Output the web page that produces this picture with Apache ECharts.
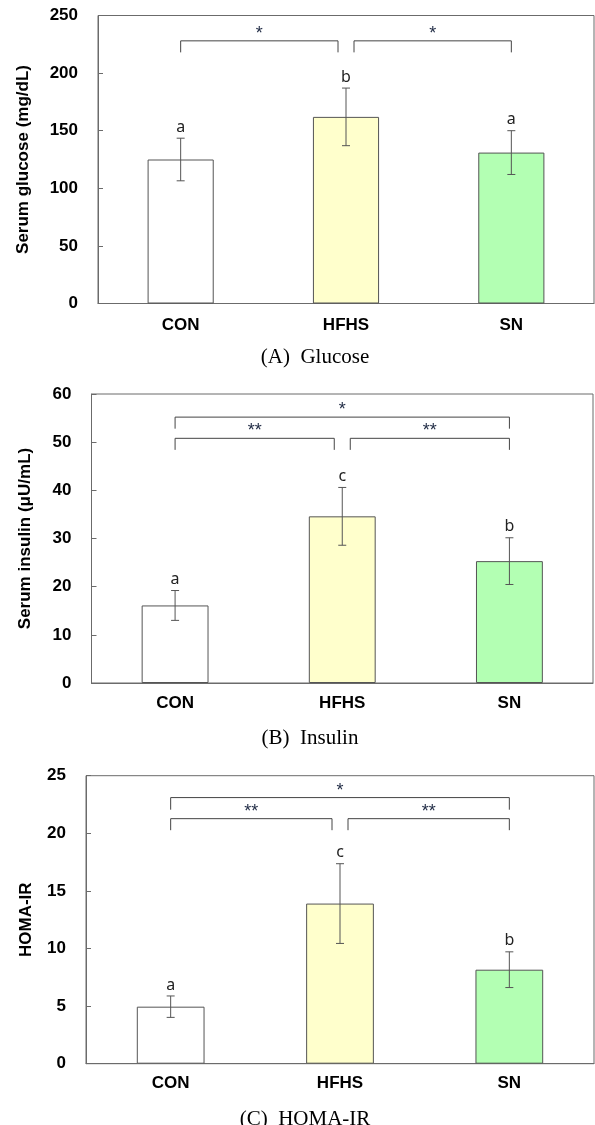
<!DOCTYPE html>
<html>
<head>
<meta charset="utf-8">
<script src="https://cdn.jsdelivr.net/npm/echarts@6/dist/echarts.min.js"></script>
<style>
  html, body { margin: 0; padding: 0; background: #fff; }
  #chart { width: 595px; height: 1125px; }
</style>
</head>
<body>
<div id="chart"></div>
<script>
const categories = ['CON', 'HFHS', 'SN']
const barColors = ['#ffffff', '#ffffcc', '#b3ffb3']

// (A) Glucose
const glucoseMean = [125, 162, 131]
const glucoseSd = [18.5, 25, 19]
const glucoseLetters = ['a', 'b', 'a']
// [from, to, y, leg drop, label]
const glucoseBrackets = [[0, 1, 228, 10, '*'], [1, 2, 228, 10, '*']]

// (B) Insulin
const insulinMean = [16.1, 34.6, 25.3]
const insulinSd = [3.1, 6.0, 4.85]
const insulinLetters = ['a', 'c', 'b']
const insulinBrackets = [[0, 2, 55.2, 2.4, '*'], [0, 1, 50.8, 2.4, '**'], [1, 2, 50.8, 2.4, '**']]

// (C) HOMA-IR
const homaMean = [4.95, 13.9, 8.16]
const homaSd = [0.93, 3.46, 1.55]
const homaLetters = ['a', 'c', 'b']
const homaBrackets = [[0, 2, 23.1, 1.05, '*'], [0, 1, 21.27, 1.0, '**'], [1, 2, 21.27, 1.0, '**']]

const yTicks = [[0, 250, 50], [0, 60, 10], [0, 25, 5]]
const yNames = ['Serum glucose (mg/dL)', 'Serum insulin (\u03bcU/mL)', 'HOMA-IR']
const captions = ['(A)  Glucose', '(B)  Insulin', '(C)  HOMA-IR']

const sans = 'Liberation Sans, Arial, sans-serif'
const axisGray = '#6b6b6b'

// 面板布局
const grids = [
  { left: 98, top: 15.5, width: 496, height: 288 },
  { left: 91.5, top: 394, width: 501.5, height: 289 },
  { left: 86, top: 775.7, width: 508, height: 288 }
]
const nameGaps = [66, 58, 51]
const labelMargins = [13, 12, 11]
const captionTops = [342, 723, 1104]
const captionLefts = [310, 305, 300]

function panelSeries(idx, means, sds, letters, brackets) {
  const ax = { xAxisIndex: idx, yAxisIndex: idx }
  return [
    Object.assign({
      type: 'bar',
      barWidth: '40%',
      data: means.map((v, i) => ({
        value: v,
        itemStyle: { color: barColors[i], borderColor: '#555', borderWidth: 1 }
      }))
    }, ax),
    // 误差线 + 字母
    Object.assign({
      type: 'custom',
      data: means.map((v, i) => [i, v, sds[i]]),
      renderItem(params, api) {
        const i = api.value(0), m = api.value(1), s = api.value(2)
        const hi = api.coord([i, m + s]), lo = api.coord([i, m - s])
        const st = { stroke: '#555', lineWidth: 1 }
        return {
          type: 'group',
          children: [
            { type: 'line', shape: { x1: hi[0], y1: hi[1], x2: lo[0], y2: lo[1] }, style: st },
            { type: 'line', shape: { x1: hi[0] - 4, y1: hi[1], x2: hi[0] + 4, y2: hi[1] }, style: st },
            { type: 'line', shape: { x1: lo[0] - 4, y1: lo[1], x2: lo[0] + 4, y2: lo[1] }, style: st },
            {
              type: 'text',
              x: hi[0], y: hi[1] - 3,
              style: {
                text: letters[params.dataIndex], align: 'center', verticalAlign: 'bottom',
                fontFamily: 'Noto Sans', fontSize: 16, fill: '#222'
              }
            }
          ]
        }
      },
      z: 3
    }, ax),
    // 显著性括号
    Object.assign({
      type: 'custom',
      data: brackets.map(b => [b[0], b[1], b[2], b[3]]),
      renderItem(params, api) {
        const a = api.value(0), b = api.value(1), y = api.value(2), d = api.value(3)
        const p1 = api.coord([a, y]), p2 = api.coord([b, y])
        const bottom = api.coord([a, y - d])[1]
        const x1 = p1[0] + (a === 1 ? 8 : 0)
        const x2 = p2[0] - (b === 1 ? 8 : 0)
        const st = { stroke: '#444', lineWidth: 1, fill: null }
        return {
          type: 'group',
          children: [
            { type: 'polyline', shape: { points: [[x1, bottom], [x1, p1[1]], [x2, p1[1]], [x2, bottom]] }, style: st },
            {
              type: 'text',
              x: (x1 + x2) / 2, y: p1[1] - 7,
              style: {
                text: brackets[params.dataIndex][4], align: 'center', verticalAlign: 'middle',
                fontFamily: sans, fontSize: 18, fill: '#1f2a44'
              }
            }
          ]
        }
      },
      z: 3
    }, ax)
  ]
}

const chart = echarts.init(document.getElementById('chart'))
chart.setOption({
  animation: false,
  title: captions.map((c, i) => ({
    text: c,
    left: captionLefts[i],
    top: captionTops[i],
    textAlign: 'center',
    textStyle: { fontFamily: 'Liberation Serif, Times New Roman, serif', fontWeight: 'normal', fontSize: 21, color: '#000' }
  })),
  grid: grids.map(g => Object.assign({ show: true, borderColor: axisGray, borderWidth: 1, backgroundColor: 'transparent' }, g)),
  xAxis: grids.map((g, i) => ({
    type: 'category',
    gridIndex: i,
    data: categories,
    axisLine: { lineStyle: { color: axisGray } },
    axisTick: { show: false },
    axisLabel: { color: '#000', fontFamily: sans, fontWeight: 'bold', fontSize: 17, margin: labelMargins[i] }
  })),
  yAxis: grids.map((g, i) => ({
    type: 'value',
    gridIndex: i,
    min: yTicks[i][0],
    max: yTicks[i][1],
    interval: yTicks[i][2],
    name: yNames[i],
    nameLocation: 'middle',
    nameGap: nameGaps[i],
    nameTextStyle: { color: '#000', fontFamily: sans, fontWeight: 'bold', fontSize: 17 },
    axisLine: { show: true, lineStyle: { color: axisGray } },
    axisTick: { show: true, inside: true, length: 5, lineStyle: { color: axisGray } },
    axisLabel: { color: '#000', fontFamily: sans, fontWeight: 'bold', fontSize: 17, margin: 20 },
    splitLine: { show: false }
  })),
  series: [
    ...panelSeries(0, glucoseMean, glucoseSd, glucoseLetters, glucoseBrackets),
    ...panelSeries(1, insulinMean, insulinSd, insulinLetters, insulinBrackets),
    ...panelSeries(2, homaMean, homaSd, homaLetters, homaBrackets)
  ]
})
window.addEventListener('resize', () => { chart.resize() })
</script>
</body>
</html>
